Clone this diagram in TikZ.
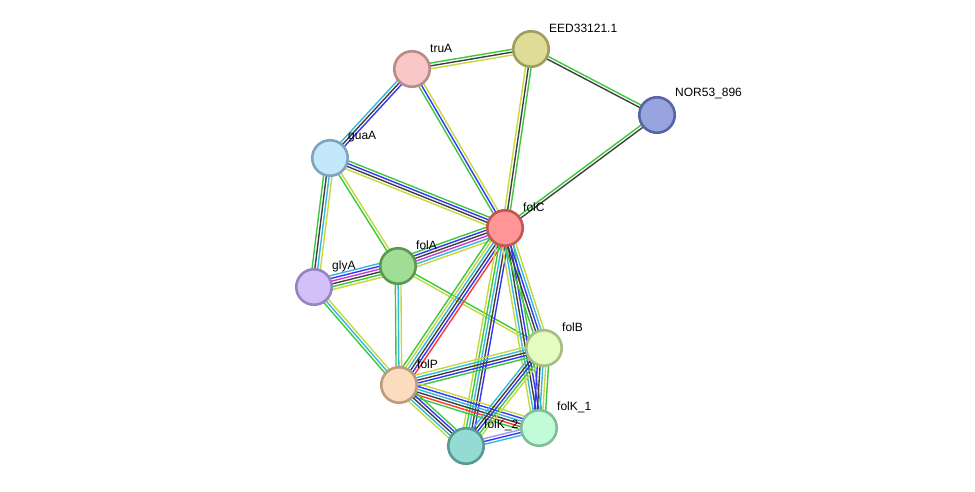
\documentclass[tikz,border=0pt]{standalone}
\usepackage{fontspec}
\setmainfont{Liberation Sans}
\usetikzlibrary{calc,backgrounds}

\definecolor{lgreen}{HTML}{3CC83C}
\definecolor{lyellow}{HTML}{C6D83E}
\definecolor{lblack}{HTML}{404040}
\definecolor{lblue}{HTML}{3535F5}
\definecolor{lcyan}{HTML}{36B8DA}
\definecolor{lred}{HTML}{FF3535}
\definecolor{lmagenta}{HTML}{C83CC8}
\definecolor{llav}{HTML}{9A9AF8}

% protein fills and rims
\definecolor{truAf}{HTML}{F8C8C8}  \definecolor{truAd}{HTML}{B88A8A}
\definecolor{EEDf}{HTML}{DFDC98}   \definecolor{EEDd}{HTML}{A09E5E}
\definecolor{NORf}{HTML}{98A4DE}   \definecolor{NORd}{HTML}{5864A6}
\definecolor{guaAf}{HTML}{C4E8FB}  \definecolor{guaAd}{HTML}{80A4C0}
\definecolor{folCf}{HTML}{FF9595}  \definecolor{folCd}{HTML}{C05656}
\definecolor{folAf}{HTML}{9FDE94}  \definecolor{folAd}{HTML}{5A9A50}
\definecolor{glyAf}{HTML}{D4C0F9}  \definecolor{glyAd}{HTML}{9484C0}
\definecolor{folBf}{HTML}{E5FCC1}  \definecolor{folBd}{HTML}{A6BE86}
\definecolor{folPf}{HTML}{FCDCBE}  \definecolor{folPd}{HTML}{BC9C7E}
\definecolor{folKaf}{HTML}{C2FBD8} \definecolor{folKad}{HTML}{80BE9A}
\definecolor{folKbf}{HTML}{94DCD3} \definecolor{folKbd}{HTML}{589A92}

\tikzset{
  prot/.style={circle, inner sep=0pt, minimum size=35.5pt, line width=2.6pt, fill=#1f, draw=#1d},
  lbl/.style={anchor=west, inner sep=1pt, font=\fontsize{12}{14}\selectfont},
  link/.style={line width=1.4pt}
}

% bundle of parallel lines between two nodes
\newcommand\strlink[3]{%
  \def\nlines{0}%
  \foreach \c in {#3} {\pgfmathtruncatemacro\tmp{\nlines+1}\global\let\nlines\tmp}%
  \foreach \c [count=\i] in {#3} {
    \pgfmathsetmacro\off{(\i-(\nlines+1)/2)*2.8}
    \draw[\c, link] ($(#1)!\off pt!90:(#2)$) -- ($(#2)!\off pt!-90:(#1)$);
  }%
}

\begin{document}
\begin{tikzpicture}[x=1pt,y=-1pt]
\useasboundingbox (0,0) rectangle (975,492);

% proteins
\node[prot=truA] (truA) at (412,69) {};
\node[prot=EED] (EED) at (531,49) {};
\node[prot=NOR] (NOR) at (657,115) {};
\node[prot=guaA] (guaA) at (330,158) {};
\node[prot=folC] (folC) at (505,228) {};
\node[prot=folA] (folA) at (398,266) {};
\node[prot=glyA] (glyA) at (314,287) {};
\node[prot=folB] (folB) at (544,348) {};
\node[prot=folP] (folP) at (399,385) {};
\node[prot=folKa] (folKa) at (539,428) {};
\node[prot=folKb] (folKb) at (466,446) {};

% labels
\foreach \n/\t in {truA/truA, EED/EED33121.1, NOR/NOR53\_896, guaA/guaA, folC/folC, folA/folA, glyA/glyA, folB/folB, folP/folP, folKa/folK\_1, folKb/folK\_2} {
  \node[lbl] (\n-l) at ($(\n)+(17,-21)$) {\t};
}

\begin{pgfonlayer}{background}
\strlink{truA}{EED}{lyellow,lblack,lgreen}
\strlink{truA}{guaA}{lcyan,lblack,lblue}
\strlink{truA}{folC}{lgreen,lblue,lyellow}
\strlink{EED}{folC}{lyellow,lblack,lgreen}
\strlink{EED}{NOR}{lblack,lgreen}
\strlink{NOR}{folC}{lgreen,lblack}
\strlink{guaA}{folC}{lyellow,lblack,lblue,lgreen}
\strlink{guaA}{glyA}{lgreen,lblack,lcyan,lyellow}
\strlink{guaA}{folA}{lgreen,lyellow}
\strlink{folA}{folC}{lyellow,lcyan,lmagenta,lblack,lblue,lgreen}
\strlink{glyA}{folA}{lyellow,lgreen,lblack,lmagenta,lblue,lcyan}
\strlink{glyA}{folP}{lgreen,lcyan,lyellow}
\strlink{folA}{folP}{lgreen,lcyan,lyellow}
\strlink{folA}{folB}{lyellow,lgreen}
\strlink{folC}{folP}{lgreen,lyellow,lcyan,lblack,lblue,lred}
\strlink{folC}{folKb}{lyellow,lgreen,lcyan,lblack,lblue}
\strlink{folC}{folKa}{lyellow,lcyan,lblack,lblue,lgreen}
\strlink{folC}{folB}{lgreen,lblack,lblue,lcyan,lyellow}
\strlink{folP}{folB}{lgreen,lblue,lblack,lcyan,lyellow}
\strlink{folP}{folKa}{lgreen,lred,lblack,lcyan,lblue,lyellow}
\strlink{folP}{folKb}{lyellow,lcyan,lblack,lblue,lgreen}
\strlink{folB}{folKa}{lblue,lblack,lcyan,lyellow,lgreen}
\strlink{folB}{folKb}{lcyan,lblack,lblue,lgreen,lyellow}
\strlink{folKb}{folKa}{lcyan,lblue,llav}
\end{pgfonlayer}
\end{tikzpicture}
\end{document}
